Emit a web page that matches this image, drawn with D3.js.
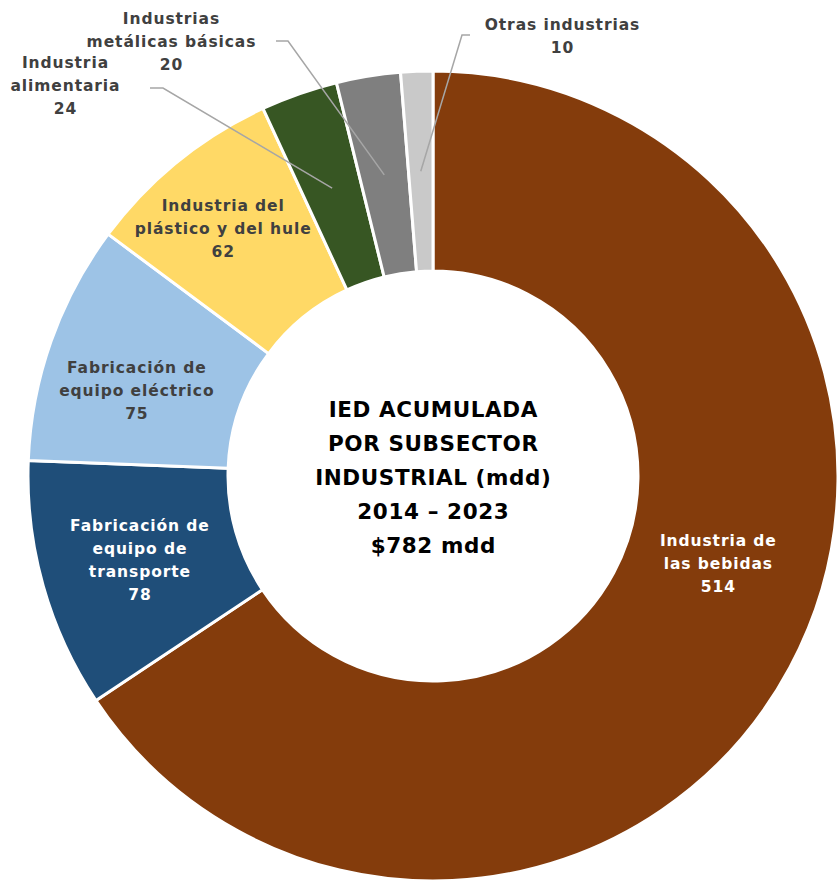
<!DOCTYPE html>
<html>
<head>
<meta charset="utf-8">
<script src="https://cdn.jsdelivr.net/npm/d3@7"></script>
<style>
  html, body { margin: 0; padding: 0; background: #fff; }
  svg { display: block; }
  text { font-family: "DejaVu Sans", "Open Sans", sans-serif; font-weight: bold; }
</style>
</head>
<body>
<svg id="chart" width="838" height="880"></svg>
<script>
// IED acumulada por subsector industrial, 2014–2023 (millones de dólares)
const categories = [
  "Industria de las bebidas",
  "Fabricación de equipo de transporte",
  "Fabricación de equipo eléctrico",
  "Industria del plástico y del hule",
  "Industria alimentaria",
  "Industrias metálicas básicas",
  "Otras industrias"
];
const values = [514, 78, 75, 62, 24, 20, 10];
const labelLines = [
  ["Industria de", "las bebidas"],
  ["Fabricación de", "equipo de", "transporte"],
  ["Fabricación de", "equipo eléctrico"],
  ["Industria del", "plástico y del hule"],
  ["Industria", "alimentaria"],
  ["Industrias", "metálicas básicas"],
  ["Otras industrias"]
];
const colors = ["#843C0C", "#1F4E79", "#9DC3E6", "#FFD966", "#375623", "#7F7F7F", "#C9C9C9"];
const labelColors = ["#ffffff", "#ffffff", "#404040", "#404040", "#404040", "#404040", "#404040"];
const centerTitle = ["IED ACUMULADA", "POR SUBSECTOR", "INDUSTRIAL (mdd)", "2014 – 2023", "$782 mdd"];

// Label placement: inside labels are shifted from the slice centroid,
// outside labels sit at a fixed spot with a leader line into the slice.
const labelLayout = [
  { inside: true, dx: 16, dy: -56 },
  { inside: true, dx: 0, dy: 2 },
  { inside: true, dx: -9, dy: 16 },
  { inside: true, dx: -18, dy: -10 },
  { inside: false, x: 65, y: 86, lineFrom: [150, 88], elbow: 13 },
  { inside: false, x: 171, y: 42, lineFrom: [276, 41], elbow: 12 },
  { inside: false, x: 562, y: 36, lineFrom: [470, 35], elbow: -8 }
];

const svg = d3.select("#chart");
const cx = 433, cy = 476;
const outerR = 405, innerR = 205, labelR = 305;

const g = svg.append("g").attr("transform", `translate(${cx},${cy})`);

const pie = d3.pie().sort(null).value(d => d.value);
const data = categories.map((c, i) => ({ name: c, value: values[i], i }));
const arcs = pie(data);

const arc = d3.arc().innerRadius(innerR).outerRadius(outerR);
const labelArc = d3.arc().innerRadius(labelR).outerRadius(labelR);

g.selectAll("path.slice")
  .data(arcs)
  .join("path")
  .attr("class", "slice")
  .attr("d", arc)
  .attr("fill", d => colors[d.data.i])
  .attr("stroke", "#ffffff")
  .attr("stroke-width", 3)
  .attr("stroke-linejoin", "round");

// Leader lines for the small slices
arcs.forEach(d => {
  const L = labelLayout[d.data.i];
  if (L.inside) return;
  const [px, py] = labelArc.centroid(d);
  const sx = L.lineFrom[0] - cx, sy = L.lineFrom[1] - cy;
  g.append("polyline")
    .attr("points", [[sx, sy], [sx + L.elbow, sy], [px, py]].map(p => p.join(",")).join(" "))
    .attr("fill", "none")
    .attr("stroke", "#A6A6A6")
    .attr("stroke-width", 1.5);
});

const fs = 15.5, lh = 23, ls = 0.9;
arcs.forEach(d => {
  const i = d.data.i;
  const L = labelLayout[i];
  let x, y;
  if (L.inside) {
    const [px, py] = labelArc.centroid(d);
    x = px + L.dx; y = py + L.dy;
  } else {
    x = L.x - cx; y = L.y - cy;
  }
  const lines = labelLines[i].concat([String(values[i])]);
  const t = g.append("text")
    .attr("text-anchor", "middle")
    .attr("fill", labelColors[i])
    .attr("font-size", fs)
    .attr("letter-spacing", ls);
  const y0 = y - (lines.length - 1) / 2 * lh;
  lines.forEach((ln, k) => {
    t.append("tspan")
      .attr("x", x + ls / 2)
      .attr("y", y0 + k * lh)
      .attr("dominant-baseline", "central")
      .text(ln);
  });
});

// Centre title
const title = g.append("text")
  .attr("text-anchor", "middle")
  .attr("fill", "#000000")
  .attr("font-size", 21.5)
  .attr("letter-spacing", 0.6);
const tlh = 34;
centerTitle.forEach((ln, k) => {
  title.append("tspan")
    .attr("x", 0.3)
    .attr("y", 1 + (k - (centerTitle.length - 1) / 2) * tlh)
    .attr("dominant-baseline", "central")
    .text(ln);
});
</script>
</body>
</html>
